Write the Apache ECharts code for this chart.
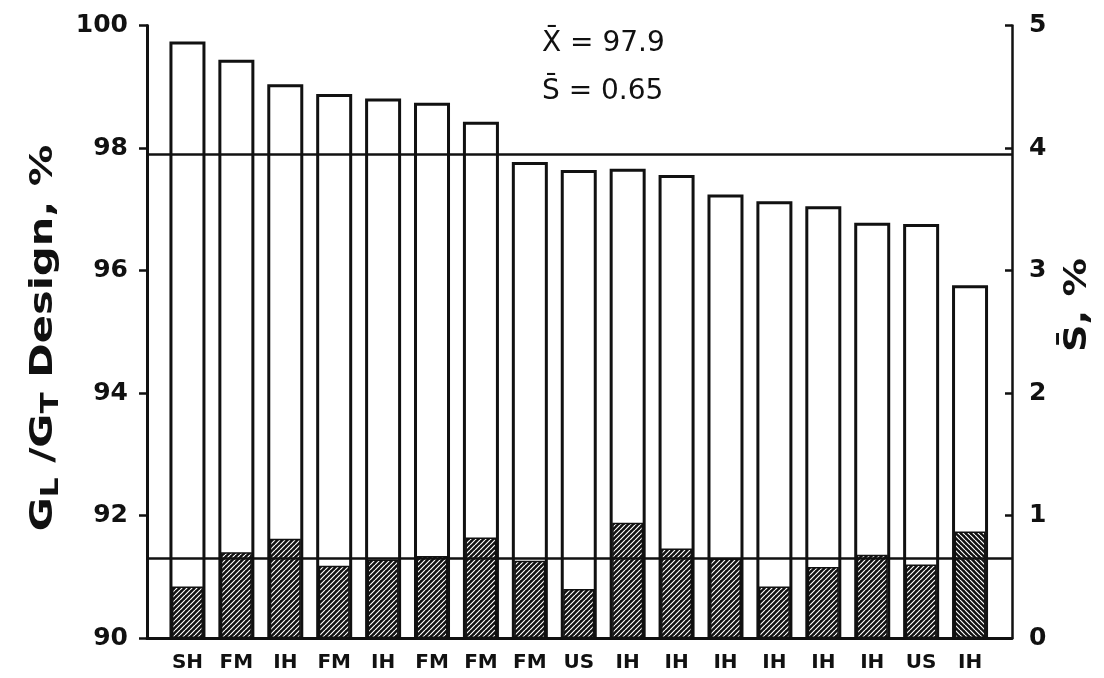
<!DOCTYPE html>
<html>
<head>
<meta charset="utf-8">
<script src="https://cdn.jsdelivr.net/npm/echarts@6/dist/echarts.min.js"></script>
<style>
  html, body { margin: 0; padding: 0; background: #fff; }
  #chart { width: 1104px; height: 678px; }
</style>
</head>
<body>
<div id="chart"></div>
<script>
// Stage type of each unit
const categories = ['SH', 'FM', 'IH', 'FM', 'IH', 'FM', 'FM', 'FM', 'US', 'IH', 'IH', 'IH', 'IH', 'IH', 'IH', 'US', 'IH'];
// Gear loss ratio GL/GT against design, %
const glRatio = [99.74, 99.44, 99.04, 98.88, 98.81, 98.74, 98.43, 97.77, 97.64, 97.66, 97.56, 97.24, 97.13, 97.05, 96.78, 96.76, 95.76];
// Standard deviation S-bar, %
const sDev = [0.42, 0.70, 0.81, 0.59, 0.64, 0.67, 0.82, 0.63, 0.40, 0.94, 0.73, 0.65, 0.42, 0.58, 0.68, 0.60, 0.87];
// Axis tick values
const leftTicks = [90, 92, 94, 96, 98, 100];
const rightTicks = [0, 1, 2, 3, 4, 5];
// Overall averages
const meanGL = 97.9;
const meanS = 0.65;

const ink = '#111';
const FONT = 'DejaVu Sans';

// Diagonal hatch tile: dark fill crossed by thin white lines
function hatchTile(forward) {
  const n = 5;
  const c = document.createElement('canvas');
  c.width = n; c.height = n;
  const g = c.getContext('2d');
  g.fillStyle = ink;
  g.fillRect(0, 0, n, n);
  g.strokeStyle = '#fff';
  g.lineWidth = 1.2;
  g.beginPath();
  for (let k = -1; k <= 1; k++) {
    if (forward) { g.moveTo(k * n, n); g.lineTo(k * n + n, 0); }
    else { g.moveTo(k * n, 0); g.lineTo(k * n + n, n); }
  }
  g.stroke();
  return { image: c, repeat: 'repeat' };
}
const hatchFwd = hatchTile(true);
const hatchBack = hatchTile(false);

const chart = echarts.init(document.getElementById('chart'), null, { renderer: 'canvas' });

const tickLabel = { fontFamily: FONT, fontWeight: 'bold', fontSize: 25, color: ink };

const option = {
  animation: false,
  backgroundColor: '#fff',
  textStyle: { fontFamily: FONT },
  grid: [
    { left: 147, right: 92, top: 25.5, bottom: 40 },
    { left: 163, right: 109.5, top: 25.5, bottom: 40 }
  ],
  xAxis: [
    {
      gridIndex: 0, type: 'value', min: 0, max: 1,
      axisLine: { show: true, lineStyle: { color: ink, width: 3 } },
      axisTick: { show: false }, axisLabel: { show: false }, splitLine: { show: false }
    },
    {
      gridIndex: 1, type: 'category', data: categories,
      axisLine: { show: false }, axisTick: { show: false }, splitLine: { show: false },
      axisLabel: { fontFamily: FONT, fontWeight: 'bold', fontSize: 20, color: ink, margin: 15, interval: 0 }
    },
    {
      gridIndex: 1, type: 'category', data: categories, show: false
    }
  ],
  yAxis: [
    {
      gridIndex: 0, type: 'value', position: 'left',
      min: leftTicks[0], max: leftTicks[leftTicks.length - 1], interval: leftTicks[1] - leftTicks[0],
      axisLine: { show: true, lineStyle: { color: ink, width: 3 } },
      axisTick: { show: true, inside: false, length: 8, lineStyle: { color: ink, width: 2.5 } },
      axisLabel: Object.assign({ margin: 19 }, tickLabel),
      splitLine: { show: false }
    },
    {
      gridIndex: 0, type: 'value', position: 'right',
      min: rightTicks[0], max: rightTicks[rightTicks.length - 1], interval: rightTicks[1] - rightTicks[0],
      axisLine: { show: true, lineStyle: { color: ink, width: 2.5 } },
      axisTick: { show: true, inside: true, length: 7, lineStyle: { color: ink, width: 2.5 } },
      axisLabel: Object.assign({ margin: 17 }, tickLabel),
      splitLine: { show: false }
    },
    {
      gridIndex: 1, type: 'value', show: false,
      min: leftTicks[0], max: leftTicks[leftTicks.length - 1]
    },
    {
      gridIndex: 1, type: 'value', show: false,
      min: rightTicks[0], max: rightTicks[rightTicks.length - 1]
    }
  ],
  series: [
    {
      name: 'GL/GT', type: 'bar', xAxisIndex: 1, yAxisIndex: 2,
      data: glRatio, barWidth: 36, clip: true, silent: true, z: 2,
      itemStyle: { color: '#fff', borderColor: ink, borderWidth: 3 }
    },
    {
      name: 'S', type: 'bar', xAxisIndex: 2, yAxisIndex: 3,
      data: sDev.map((v, i) => i === sDev.length - 1 ? { value: v, itemStyle: { color: hatchBack } } : v),
      barWidth: 31, silent: true, z: 3,
      itemStyle: { color: hatchFwd, borderColor: ink, borderWidth: 1.5 }
    },
    {
      name: 'mean GL', type: 'line', xAxisIndex: 0, yAxisIndex: 0, data: [], z: 5,
      markLine: {
        silent: true, symbol: 'none', label: { show: false },
        lineStyle: { color: ink, width: 2.5, type: 'solid' },
        data: [{ yAxis: meanGL }]
      }
    },
    {
      name: 'mean S', type: 'line', xAxisIndex: 0, yAxisIndex: 1, data: [], z: 5,
      markLine: {
        silent: true, symbol: 'none', label: { show: false },
        lineStyle: { color: ink, width: 2.5, type: 'solid' },
        data: [{ yAxis: meanS }]
      }
    }
  ],
  graphic: [
    {
      type: 'text', left: 542, top: 30, z: 10,
      style: { text: 'X\u0304 = ' + meanGL.toFixed(1), fontFamily: FONT, fontSize: 28, fill: ink }
    },
    {
      type: 'text', left: 542, top: 78, z: 10,
      style: { text: 'S\u0304 = ' + meanS.toFixed(2), fontFamily: FONT, fontSize: 28, fill: ink }
    },
    {
      type: 'text', x: 44, y: 338, rotation: Math.PI / 2, scaleX: 1.3, z: 10,
      style: {
        text: '{b|G}{s|L}{b| /G}{s|T}{b| Design, %}',
        align: 'center', verticalAlign: 'middle',
        rich: {
          b: { fontFamily: FONT, fontWeight: 'bold', fontSize: 32, fill: ink, lineHeight: 40 },
          s: { fontFamily: FONT, fontWeight: 'bold', fontSize: 24, fill: ink, verticalAlign: 'bottom' }
        }
      }
    },
    {
      type: 'text', x: 1078, y: 305, rotation: Math.PI / 2, scaleX: 1.2, z: 10,
      style: {
        text: 'S\u0304, %', fontFamily: FONT, fontWeight: 'bold', fontSize: 32, fill: ink,
        align: 'center', verticalAlign: 'middle'
      }
    }
  ]
};

chart.setOption(option);
</script>
</body>
</html>
